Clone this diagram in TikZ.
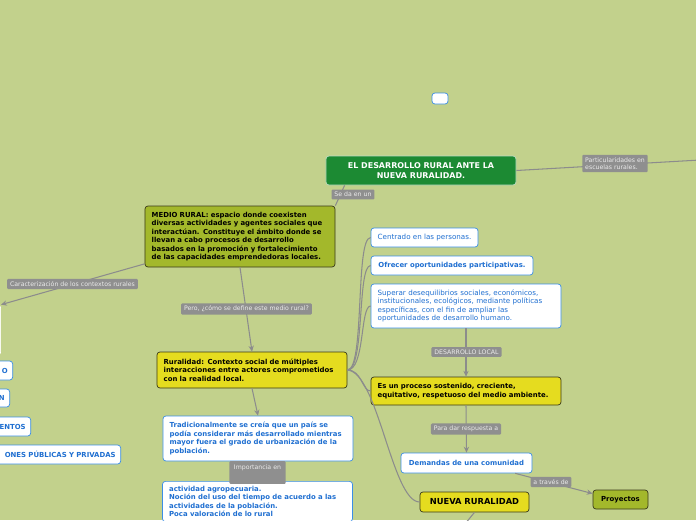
\documentclass[tikz,border=0pt]{standalone}
\usepackage{fontspec}
\setmainfont{DejaVu Sans}
\usetikzlibrary{arrows.meta}

\definecolor{bgcol}{HTML}{C2D18C}
\definecolor{greenfill}{HTML}{1C8A33}
\definecolor{olivefill}{HTML}{A3B82B}
\definecolor{yelfill}{HTML}{E5DC1F}
\definecolor{darkbrd}{HTML}{3A3A1A}
\definecolor{bluebrd}{HTML}{3B8EE6}
\definecolor{bluetxt}{HTML}{1F6FD1}
\definecolor{lblgray}{HTML}{8F8F8F}
\definecolor{linegray}{HTML}{8C8C8C}

\newcommand\fbody{\fontsize{5.9}{7.3}\selectfont}
\newcommand\fnorm{\fontsize{6.1}{7.3}\selectfont}
\newcommand\flbl{\fontsize{5.3}{6.4}\selectfont}
\newcommand\ftitle{\fontsize{6.8}{8.4}\selectfont}

\tikzset{
  box/.style={draw, rounded corners=2.5pt, line width=0.6pt, align=left, inner xsep=0.2cm, inner ysep=0pt, font=\fbody},
  wbox/.style={box, fill=white, draw=bluebrd, text=bluetxt, font=\fnorm},
  ybox/.style={box, fill=yelfill, draw=darkbrd, font=\fbody\bfseries},
  obox/.style={box, fill=olivefill, draw=darkbrd, font=\fbody\bfseries},
  lbl/.style={fill=lblgray, text=white!92!black, font=\flbl, inner xsep=2.5pt, inner ysep=2.2pt, rounded corners=1pt},
  conn/.style={draw=linegray, line width=0.9pt},
  arr/.style={conn, -{Stealth[length=5pt,width=4.5pt]}},
}

\begin{document}
\begin{tikzpicture}[x=0.03cm, y=-0.03cm]
  \fill[bgcol] (0,0) rectangle (696,520);
  \useasboundingbox (0,0) rectangle (696,520);
  \clip (0,0) rectangle (696,520);

  % central topic
  \node[box, fill=greenfill, draw=white!70!greenfill, text=white, font=\ftitle\bfseries, align=center, minimum width=5.7cm, minimum height=0.87cm] (main) at (421,170.5) {EL DESARROLLO RURAL ANTE LA\\NUEVA RURALIDAD.};
  \node[wbox, minimum width=0.48cm, minimum height=0.33cm, inner sep=0pt] (vacio) at (440,98.5) {};
  \coordinate (escuelas) at (700,160);

  % left branch
  \node[obox, text width=5.3cm, minimum height=1.83cm] (medio) at (240,236.5) {MEDIO RURAL: espacio donde coexisten\\diversas actividades y agentes sociales que\\interactúan. Constituye el ámbito donde se\\llevan a cabo procesos de desarrollo\\basados en la promoción y fortalecimiento\\de las capacidades emprendedoras locales.};
  \node[ybox, text width=5.3cm, minimum height=1.08cm] (rural) at (252,370) {Ruralidad: Contexto social de múltiples\\interacciones entre actores comprometidos\\con la realidad local.};
  \node[wbox, font=\fbody\bfseries, text width=5.3cm, minimum height=1.35cm] (trad) at (258,438.5) {Tradicionalmente se creía que un país se\\podía considerar más desarrollado mientras\\mayor fuera el grado de urbanización de la\\población.};
  \node[wbox, font=\fbody\bfseries, text width=5.3cm, anchor=north, inner ysep=4pt] (agro) at (257.5,481) {actividad agropecuaria.\\Noción del uso del tiempo de acuerdo a las\\actividades de la población.\\Poca valoración de lo rural};

  % cut at the left edge
  \node[wbox, draw=white, anchor=east, minimum width=2cm, minimum height=1.5cm] (ctx) at (1,330) {};
  \node[wbox, font=\fbody\bfseries, anchor=east, text width=3cm, align=right, inner xsep=0.15cm, minimum height=0.57cm] (izqA) at (13,370.5) {O};
  \node[wbox, font=\fbody\bfseries, anchor=east, text width=3cm, align=right, inner xsep=0.15cm, minimum height=0.54cm] (izqB) at (10,398) {N};
  \node[wbox, font=\fbody\bfseries, anchor=east, text width=3cm, align=right, inner xsep=0.15cm, minimum height=0.57cm] (izqC) at (31,426.5) {ENTOS};
  \node[wbox, font=\fbody\bfseries, anchor=east, text width=5cm, align=right, inner xsep=0.15cm, minimum height=0.57cm] (izqD) at (121,454.5) {ONES PÚBLICAS Y PRIVADAS};

  % right branch
  \node[wbox, minimum width=3.21cm, minimum height=0.57cm] (centrado) at (424.5,237.5) {Centrado en las personas.};
  \node[wbox, font=\fbody\bfseries, minimum width=4.86cm, minimum height=0.57cm] (ofrecer) at (452,265.5) {Ofrecer oportunidades participativas.};
  \node[wbox, text width=5.3cm, minimum height=1.32cm] (superar) at (466,306) {Superar desequilibrios sociales, económicos,\\institucionales, ecológicos, mediante políticas\\específicas, con el fin de ampliar las\\oportunidades de desarrollo humano.};
  \node[ybox, text width=5.3cm, minimum height=0.84cm] (proceso) at (466,391) {Es un proceso sostenido, creciente,\\equitativo, respetuoso del medio ambiente.};
  \node[wbox, font=\fbody\bfseries, align=center, minimum width=3.93cm, minimum height=0.6cm] (demandas) at (466.5,463) {Demandas de una comunidad};
  \node[ybox, font=\fontsize{7.1}{8.5}\selectfont\bfseries, align=center, minimum width=3.27cm, minimum height=0.6cm] (nueva) at (474.5,502) {NUEVA RURALIDAD};
  \node[obox, align=center, inner xsep=2pt, minimum width=1.65cm, minimum height=0.57cm] (proy) at (620.5,499.5) {Proyectos};
  \coordinate (abajo) at (460,530);

  % connectors
  \draw[conn] (main.east) -- (escuelas);
  \draw[conn] (main.191) -- (medio.north east);
  \draw[arr] (medio.196) -- (ctx.north east);
  \draw[arr] (medio.south) -- (rural.north);
  \draw[arr] (rural.south) -- (trad.north);
  \draw[conn] (trad.south) -- (agro.north);
  \draw[conn] (rural.east) .. controls (365,370) and (355,237.5) .. (centrado.west);
  \draw[conn] (rural.east) .. controls (365,370) and (357,265.5) .. (ofrecer.west);
  \draw[conn] (rural.east) .. controls (365,370) and (360,306) .. (superar.west);
  \draw[conn] (rural.east) .. controls (362,370) and (362,391) .. (proceso.west);
  \draw[conn] (rural.east) .. controls (378,372) and (392,502) .. (nueva.west);
  \draw[arr] (superar.south) -- (proceso.north);
  \draw[arr] (proceso.south) -- (demandas.north);
  \draw[arr] (demandas.-12) -- (proy.168);
  \draw[conn] (nueva.south) -- (abajo);

  % connector labels
  \node[lbl] (lblSe) at (353,194.5) {Se da en un};
  \node[lbl, align=left] (lblEsc) at (615,163.5) {Particularidades en\\escuelas rurales.};
  \node[lbl] (lblCar) at (72.5,284) {Caracterización de los contextos rurales};
  \node[lbl] (lblPero) at (246.5,309) {Pero, ¿cómo se define este medio rural?};
  \node[lbl, anchor=north, text height=5pt, text depth=10pt, inner xsep=4pt] (lblImp) at (257.5,461) {Importancia en};
  \node[lbl] (lblDes) at (466.5,352) {DESARROLLO LOCAL};
  \node[lbl] (lblPara) at (466,429) {Para dar respuesta a};
  \node[lbl] (lblTra) at (551,482) {a través de};
\end{tikzpicture}
\end{document}
